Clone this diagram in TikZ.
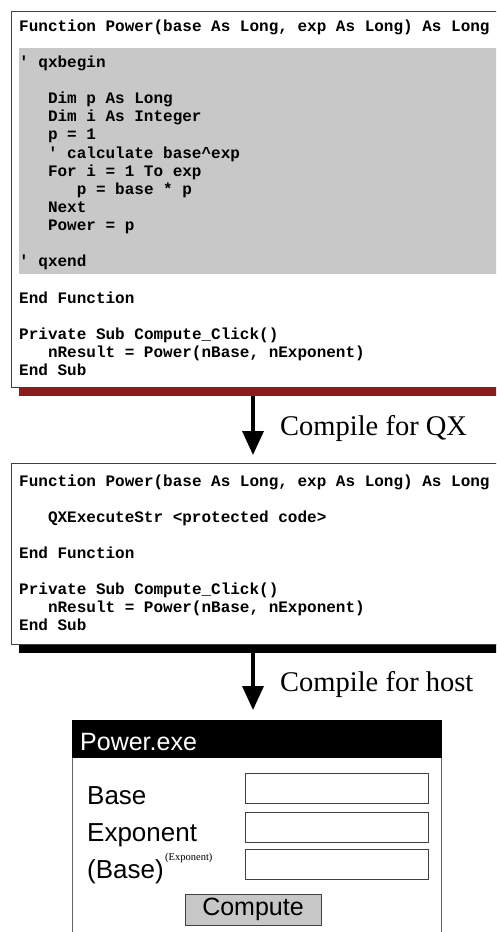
\documentclass[tikz,border=0pt]{standalone}
\usepackage{fontspec}
\setmainfont{Liberation Serif}
\setsansfont{Liberation Sans}
\setmonofont{Liberation Mono}
\usetikzlibrary{arrows.meta, positioning}

\definecolor{qxgray}{RGB}{200,200,200}
\definecolor{qxred}{RGB}{139,28,30}

\begin{document}
\begin{tikzpicture}[
    % One unit is one point, y grows downwards
    x=1pt, y=-1pt,
    code/.style={anchor=base west, inner sep=0pt,
        font=\ttfamily\bfseries\fontsize{16}{18}\selectfont},
    stage/.style={anchor=base west, inner sep=0pt,
        font=\rmfamily\fontsize{28.5}{32}\selectfont},
    flow/.style={line width=3.5pt, -{Triangle[width=21pt, length=24pt]}},
    boxline/.style={draw=black!75, line width=0.9pt},
    field/.style={draw=black!75, line width=1pt, fill=white,
        minimum width=183pt, minimum height=30pt, inner sep=0pt},
    fieldlbl/.style={anchor=base west, inner sep=0pt,
        font=\sffamily\fontsize{26}{30}\selectfont},
]
    \useasboundingbox (0,0) rectangle (496,932);
    \clip (0,0) rectangle (496,932);
    \fill[white] (0,0) rectangle (496,932);

    % --- Source module (with the protected block) ---
    \fill[qxred] (19,388) rectangle (510,396);
    \draw[boxline, fill=white] (11,11) rectangle (510,387);
    \fill[qxgray] (19,48) rectangle (510,274);
    \foreach \k/\n/\t in {
        0/0/{Function Power(base As Long, exp As Long) As Long},
        2/0/{\textquotesingle\ qxbegin},
        4/3/{Dim p As Long},
        5/3/{Dim i As Integer},
        6/3/{p = 1},
        7/3/{\textquotesingle\ calculate base\textasciicircum exp},
        8/3/{For i = 1 To exp},
        9/6/{p = base * p},
        10/3/{Next},
        11/3/{Power = p},
        13/0/{\textquotesingle\ qxend},
        15/0/{End Function},
        17/0/{Private Sub Compute\_Click()},
        18/3/{nResult = Power(nBase, nExponent)},
        19/0/{End Sub}} {
        \node[code] (src-\k) at ({19+9.6*\n}, {31+18.15*\k}) {\t};
    }

    % --- First compile step ---
    \coordinate (srcend) at (253,396);
    \coordinate (qxtop) at (253,455);
    \draw[flow] (srcend) -- (qxtop);
    \node[stage] (qxlbl) at (280,435) {Compile for QX};

    % --- Module after QX compile ---
    \fill[black] (19,644) rectangle (510,653);
    \draw[boxline, fill=white] (11,463) rectangle (510,644);
    \foreach \k/\n/\t in {
        0/0/{Function Power(base As Long, exp As Long) As Long},
        2/3/{QXExecuteStr <protected code>},
        4/0/{End Function},
        6/0/{Private Sub Compute\_Click()},
        7/3/{nResult = Power(nBase, nExponent)},
        8/0/{End Sub}} {
        \node[code] (qx-\k) at ({19+9.6*\n}, {486+18.1*\k}) {\t};
    }

    % --- Second compile step ---
    \coordinate (qxend) at (253,653);
    \coordinate (wintop) at (253,710);
    \draw[flow] (qxend) -- (wintop);
    \node[stage] (hostlbl) at (280,691) {Compile for host};

    % --- Resulting program window ---
    \fill[black] (72,720) rectangle (442,758);
    \node[anchor=base west, inner sep=0pt, text=white,
        font=\sffamily\fontsize{25}{30}\selectfont] (title) at (80,750) {Power.exe};
    \draw[black!60, line width=1pt] (72,758) -- (72,940) (441,758) -- (441,940);

    \node[field] (basefld) at (336.5,788) {};
    \node[field] (expfld) at (336.5,827) {};
    \node[field] (resfld) at (336.5,864.5) {};

    \node[fieldlbl] (baselbl) at (87,804) {Base};
    \node[fieldlbl] (explbl) at (87,841) {Exponent};
    \node[fieldlbl] (reslbl) at (87,878) {(Base)};
    \node[anchor=base west, inner sep=0pt, font=\rmfamily\fontsize{10.5}{12}\selectfont]
        (reslblsup) at ([xshift=1pt, yshift=18pt]reslbl.base east) {(Exponent)};

    \node[draw=black!75, line width=1pt, fill=black!22, minimum width=136pt,
        minimum height=31pt, inner sep=0pt,
        font=\sffamily\fontsize{25}{30}\selectfont] (compute) at (253,909.5) {Compute};
\end{tikzpicture}
\end{document}
